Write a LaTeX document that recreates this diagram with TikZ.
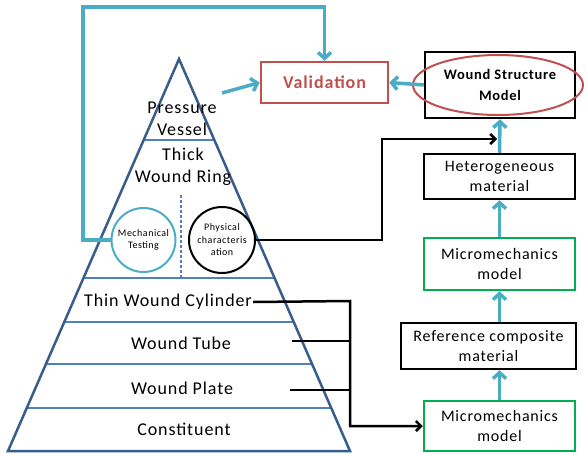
\documentclass[tikz,border=0pt]{standalone}
\usepackage{fontspec}
\setmainfont{Carlito}[LetterSpace=5]
\usetikzlibrary{arrows.meta}

\definecolor{pyrblue}{RGB}{56,93,138}
\definecolor{divblue}{RGB}{79,129,189}
\definecolor{flowcyan}{RGB}{75,172,198}
\definecolor{valred}{RGB}{192,80,77}
\definecolor{mmgreen}{RGB}{0,176,80}

\begin{document}
\begin{tikzpicture}[x=1pt,y=-1pt,
    flow/.style={draw=flowcyan,line width=3.5pt,-{Straight Barb[length=6pt,width=13pt]}},
    link/.style={draw=black,line width=2.5pt},
    linkarr/.style={link,-{Straight Barb[length=5pt,width=10pt]}},
    level/.style={font=\fontsize{18}{22}\selectfont,align=center,inner sep=1pt},
    modelbox/.style={rectangle,draw,line width=2.5pt,font=\fontsize{16}{20}\selectfont,align=center,inner sep=0pt}]

        \useasboundingbox (0,0) rectangle (586,453);

        % pyramid
        \coordinate (apex) at (179,59);
        \coordinate (bl) at (8,451);
        \coordinate (br) at (350,451);
        \foreach \yy in {140,278,322,364,408}
          \draw[divblue,line width=1.3pt] ({179-0.4362*(\yy-59)},\yy) -- ({179+0.4362*(\yy-59)},\yy);
        \draw[divblue,line width=1.2pt,dashed,dash pattern=on 3pt off 2pt] (181,195) -- (181,277);
        \draw[pyrblue,line width=2.5pt] (apex) -- (br) -- (bl) -- cycle;

        \begin{scope}[every node/.style={level}]
          \node (pv)  at (182,119) {Pressure\\Vessel};
          \node (twr) at (183,167) {Thick\\Wound Ring};
          \node (twc) at (168,302) {Thin Wound Cylinder};
          \node (wt)  at (181,343) {Wound Tube};
          \node (wp)  at (182,388) {Wound Plate};
          \node (con) at (184,429) {Constituent};
        \end{scope}

        \begin{scope}[every node/.style={circle,line width=2pt,align=center,inner sep=0pt,font=\fontsize{10}{12.5}\selectfont}]
          \node[draw=flowcyan,minimum size=64pt] (mt) at (143.5,240) {Mechanical\\Testing};
          \node[draw=black,minimum size=66pt] (pc) at (222,240) {Physical\\characteris\\ation};
        \end{scope}

        % models column
        \begin{scope}[every node/.style={modelbox}]
          \node[draw=valred,text=valred,font=\fontsize{18}{22}\selectfont\bfseries,minimum width=127pt,minimum height=41pt] (val) at (324.5,82.5) {Validation};
          \node[minimum width=150pt,minimum height=66pt,font=\fontsize{14.5}{21}\selectfont\bfseries] (wsm) at (500,85) {Wound Structure\\Model};
          \node[minimum width=151pt,minimum height=45pt] (het) at (499.5,176.5) {Heterogeneous\\material};
          \node[draw=mmgreen,minimum width=151pt,minimum height=52pt] (mm1) at (499.5,264) {Micromechanics\\model};
          \node[minimum width=175pt,minimum height=46pt] (ref) at (488.5,346) {Reference composite\\material};
          \node[draw=mmgreen,minimum width=151pt,minimum height=50pt] (mm2) at (499.5,426) {Micromechanics\\model};
        \end{scope}
        \draw[valred,line width=2pt] (498,85) ellipse [x radius=85, y radius=30];

        % cyan flow
        \coordinate (loopL) at (83,240);
        \coordinate (loopT) at (83,7);
        \coordinate (tipout) at (222,93);
        \draw[flow] (mt.west) -- (loopL) -- (loopT) -| (val.north);
        \draw[flow] (tipout) -- (val.west);
        \draw[flow] (wsm.west) -- (val.east);
        \draw[flow] (het.north) -- (wsm.south);
        \draw[flow] (mm1.north) -- (het.south);
        \draw[flow] (ref.north -| mm1.south) -- (mm1.south);
        \draw[flow] (mm2.north) -- (ref.south -| mm2.north);

        % black links
        \coordinate (pcturn) at (382,240);
        \coordinate (hetjoin) at (497,139);
        \draw[linkarr] (pc.east) -- (pcturn) |- (hetjoin);
        \coordinate (trunk) at (350,301);
        \coordinate (tubeL) at (292,341);
        \coordinate (plateL) at (290,390);
        \draw[linkarr] (twc.east) -- (trunk) |- (mm2.west);
        \draw[link] (tubeL) -- (tubeL -| trunk);
        \draw[link] (plateL) -- (plateL -| trunk);

      \end{tikzpicture}
\end{document}
